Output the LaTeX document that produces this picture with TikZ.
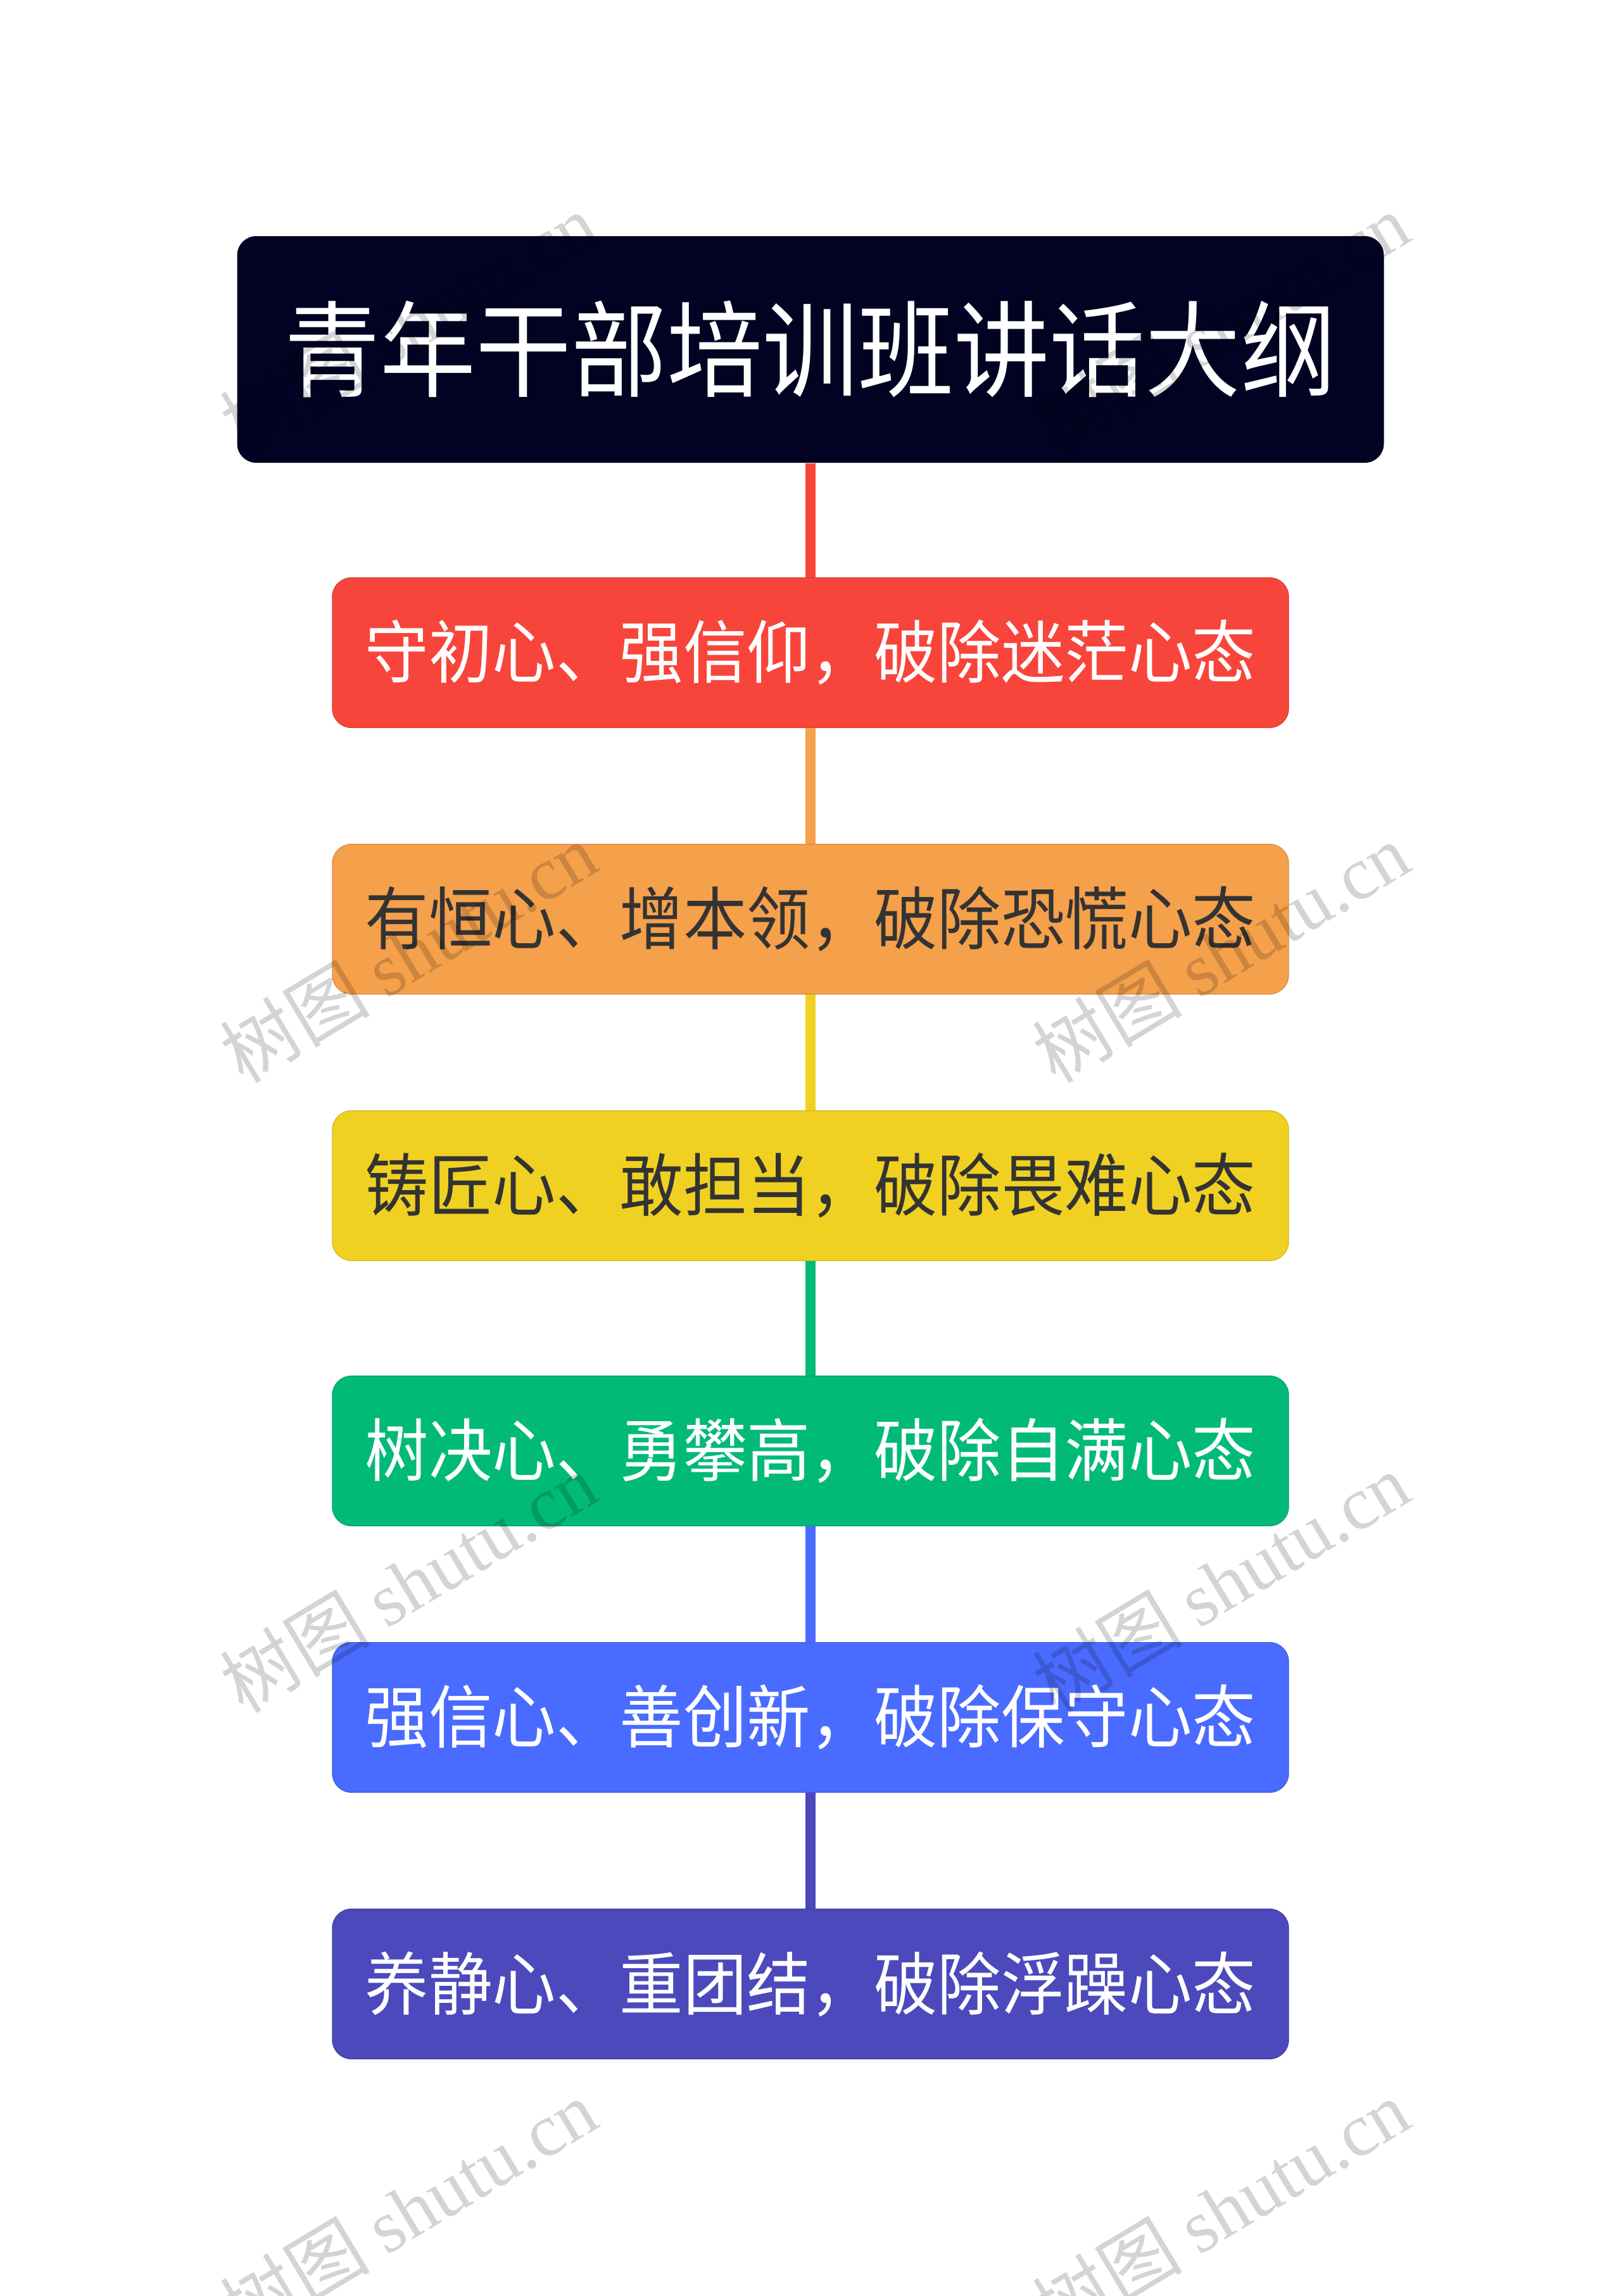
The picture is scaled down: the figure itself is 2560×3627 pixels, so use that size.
\documentclass[tikz,border=0pt]{standalone}
\usepackage{fontspec}
\newfontfamily\cjk[FakeStretch=0.93]{Noto Sans CJK SC}
\newfontfamily\cjktitle[FakeStretch=0.915]{Noto Sans CJK SC}
\newfontfamily\wmcjk{Noto Sans CJK SC}
\newfontfamily\wmlat{Liberation Serif}
\definecolor{titlebg}{HTML}{020322}
\definecolor{cred}{HTML}{F8453B}
\definecolor{corange}{HTML}{F5A04B}
\definecolor{cyellow}{HTML}{F0D122}
\definecolor{cgreen}{HTML}{02BA78}
\definecolor{cblue}{HTML}{4A6BFF}
\definecolor{cpurple}{HTML}{4B49BC}
\definecolor{darktext}{HTML}{333333}
\tikzset{
  titlebox/.style={rectangle, rounded corners=9pt, fill=titlebg, text=white,
    minimum width=543.3pt, minimum height=107.4pt, inner sep=0pt,
    font=\cjktitle\fontsize{49.5pt}{55pt}\selectfont},
  itembox/.style={rectangle, rounded corners=9pt, fill=#1, draw=#1!88!black, line width=0.4pt,
    minimum width=453pt, minimum height=71pt, inner sep=0pt,
    font=\cjk\fontsize{32.4pt}{36pt}\selectfont},
  link/.style={draw=#1, line width=4.8pt},
  wmark/.style={rotate=31, text=black, text opacity=0.17, inner sep=0pt}
}
\begin{document}
\begin{tikzpicture}[x=0.3pt,y=-0.3pt]
\useasboundingbox (0,0) rectangle (2560,3627);
\node[titlebox] (title) at (1280,552) {青年干部培训班讲话大纲};
\node[itembox=cred, text=white] (b1) at (1280,1031) {守初心、强信仰，破除迷茫心态};
\node[itembox=corange, text=darktext] (b2) at (1280,1452) {有恒心、增本领，破除恐慌心态};
\node[itembox=cyellow, text=darktext] (b3) at (1280,1873) {铸匠心、敢担当，破除畏难心态};
\node[itembox=cgreen, text=white] (b4) at (1280,2292) {树决心、勇攀高，破除自满心态};
\node[itembox=cblue, text=white] (b5) at (1280,2713) {强信心、善创新，破除保守心态};
\node[itembox=cpurple, text=white] (b6) at (1280,3134) {养静心、重团结，破除浮躁心态};
\draw[link=cred] (title.south) -- (b1.north);
\draw[link=corange] (b1.south) -- (b2.north);
\draw[link=cyellow] (b2.south) -- (b3.north);
\draw[link=cgreen] (b3.south) -- (b4.north);
\draw[link=cblue] (b4.south) -- (b5.north);
\draw[link=cpurple] (b5.south) -- (b6.north);
\foreach \i/\xx/\yy in {1/645/510,2/1928/510,3/645/1505,4/1928/1505,5/645/2500,6/1928/2500,7/645/3490,8/1928/3490}{
  \node[wmark] (wm\i) at (\xx,\yy) {\fontsize{35.5pt}{38pt}\selectfont\wmcjk 树图\ \wmlat shutu.cn};
}
\end{tikzpicture}
\end{document}
